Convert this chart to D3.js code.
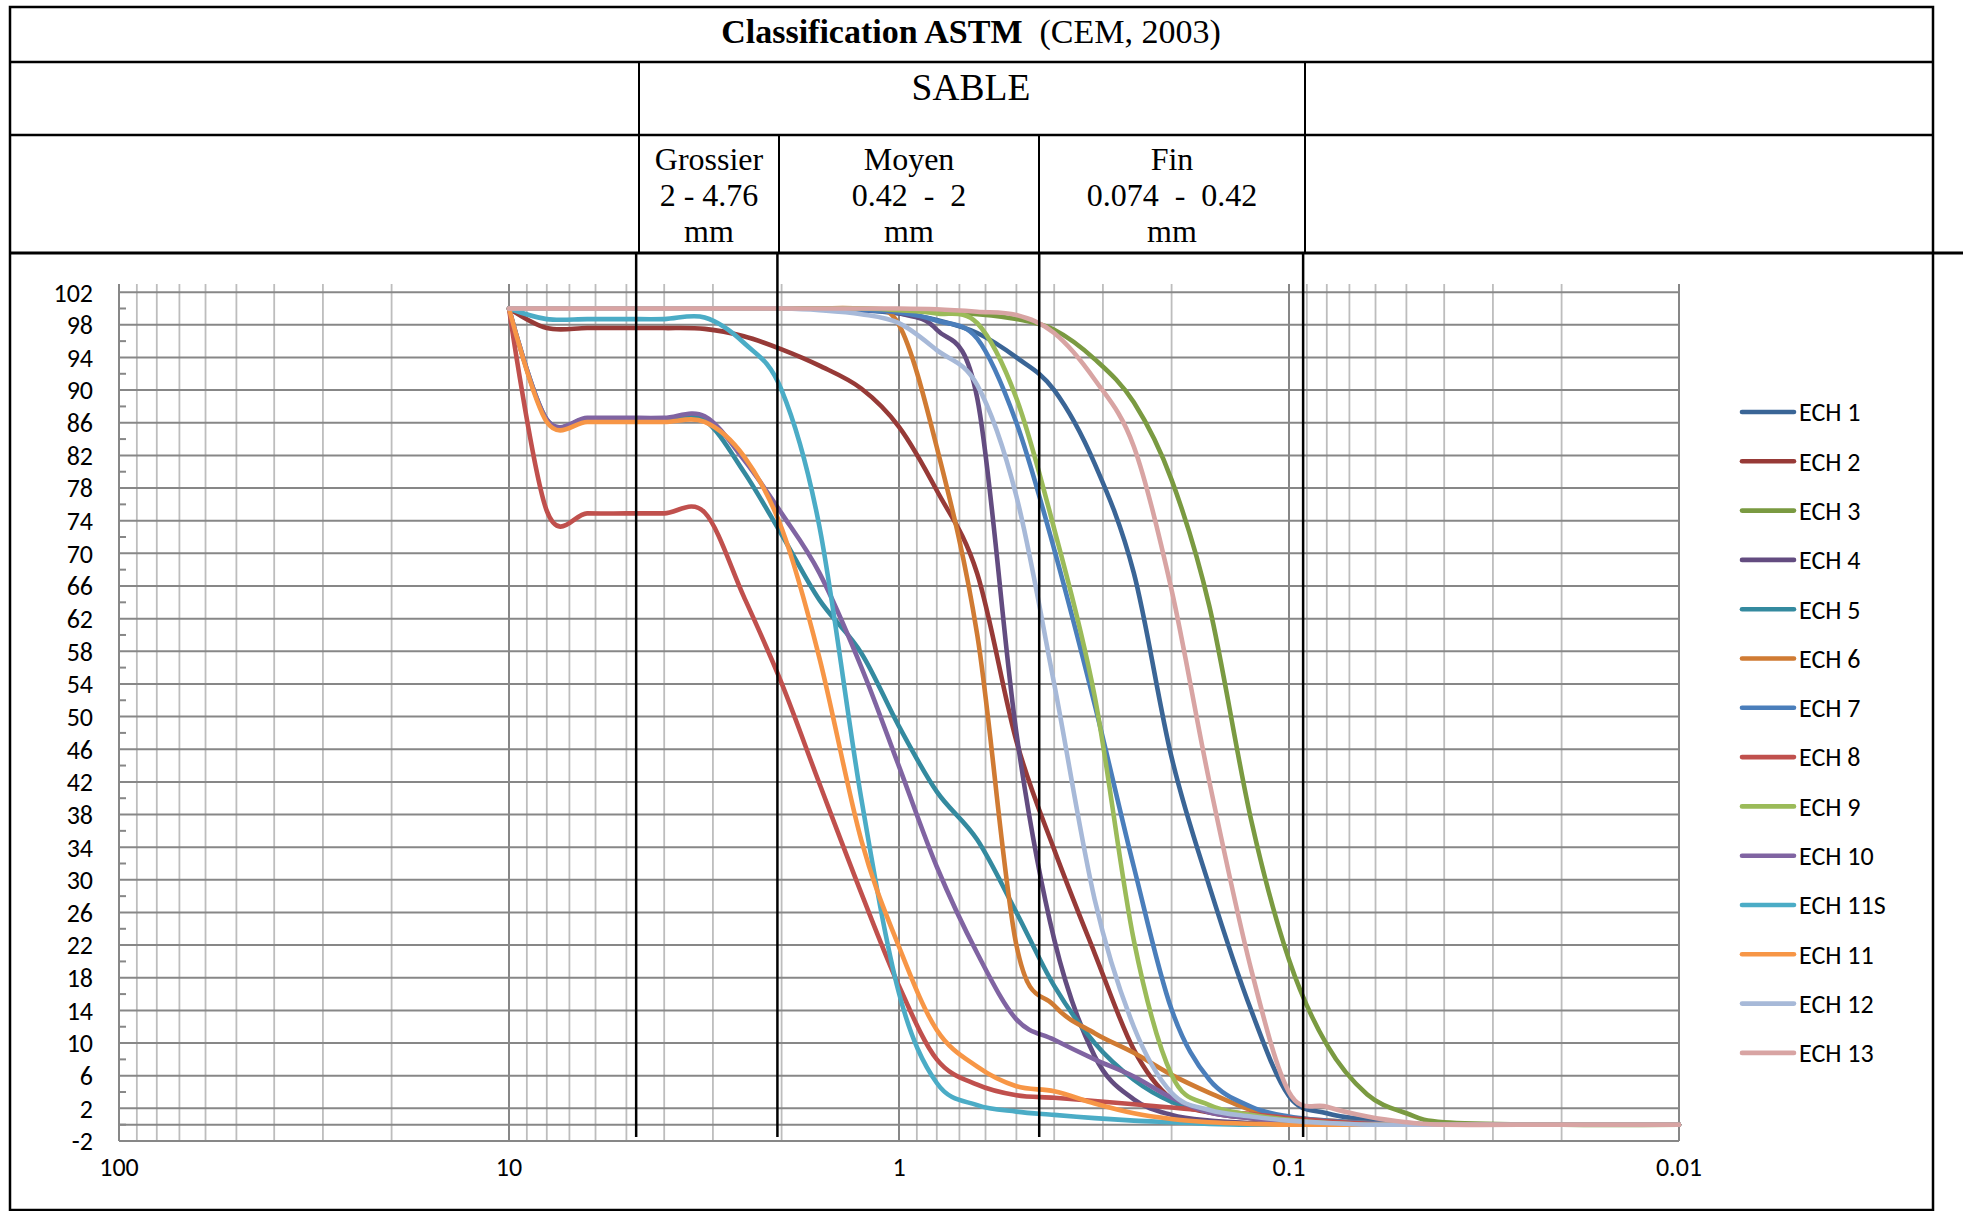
<!DOCTYPE html>
<html lang="fr">
<head>
  <meta charset="UTF-8">
  <title>Classification ASTM (CEM, 2003)</title>
  <script src="https://cdnjs.cloudflare.com/ajax/libs/d3/7.8.5/d3.min.js"></script>
  <style>
    body {
      margin: 0;
      background: white;
    }
    svg {
      display: block;
      background: white;
    }
    .tbl {
      font-family: "Liberation Serif", "Times New Roman", serif;
      fill: #000;
    }
    .axis-label, .legend-label {
      font-family: Carlito, Calibri, Lato, sans-serif;
      fill: #000;
    }
  </style>
</head>
<body>
  <script>
    // sieve openings (mm)
    var sieves = [10, 8, 6.3, 5, 4, 3.15, 2.5, 2, 1.6, 1.25, 1, 0.8, 0.63, 0.5,
      0.4, 0.315, 0.25, 0.2, 0.16, 0.125, 0.1, 0.08, 0.063, 0.05, 0.04, 0.02, 0.01];

    // % passing for each sample
    var ech1  = [100, 100, 100, 100, 100, 100, 100, 100, 100, 99.8, 99.4, 98.6, 97, 94, 90, 81, 67.6, 45, 29.2, 14, 3.5, 1.4, 0.6, 0.2, 0, 0, 0];
    var ech2  = [100, 97.6, 97.6, 97.6, 97.6, 97.5, 96.6, 95, 93, 90.2, 85.5, 77.7, 67.5, 47, 33.7, 21, 9.2, 3.1, 1.5, 0.8, 0.4, 0.1, 0, 0, 0, 0, 0];
    var ech3  = [100, 100, 100, 100, 100, 100, 100, 100, 100, 100, 99.8, 99.6, 99.3, 98.7, 97.4, 93.8, 88.5, 79, 63.5, 37.3, 20.2, 9.8, 3.7, 1.4, 0.3, 0, 0];
    var ech4  = [100, 100, 100, 100, 100, 100, 100, 100, 100, 99.8, 99.4, 97.4, 89, 48, 22.7, 8.4, 3.1, 1.2, 0.5, 0.2, 0, 0, 0, 0, 0, 0, 0];
    var ech5  = [100, 86.4, 86.5, 86.5, 86.5, 86.3, 80, 72.3, 64.3, 57.8, 48.8, 40.8, 34.9, 26, 17, 10, 5.5, 2.8, 1.6, 1, 0.5, 0.2, 0, 0, 0, 0, 0];
    var ech6  = [100, 100, 100, 100, 100, 100, 100, 100, 100, 99.9, 98, 83, 60, 22, 14.6, 11.2, 8.8, 6.1, 3.9, 1.8, 0.9, 0.5, 0.2, 0, 0, 0, 0];
    var ech7  = [100, 100, 100, 100, 100, 100, 100, 100, 100, 99.8, 99.5, 98.5, 96.3, 86, 70.5, 51.5, 31.6, 14.1, 5.5, 2.2, 1, 0.5, 0.2, 0, 0, 0, 0];
    var ech8  = [100, 75.2, 74.9, 74.9, 74.9, 75, 64.7, 54.1, 41.8, 28.4, 17, 8, 4.9, 3.6, 3.3, 2.9, 2.5, 2.1, 1.7, 1.3, 0.8, 0.4, 0.1, 0, 0, 0, 0];
    var ech9  = [100, 100, 100, 100, 100, 100, 100, 100, 100, 100, 99.8, 99.4, 98.2, 89, 73, 52.5, 22.6, 6.1, 2.4, 1.2, 0.6, 0.2, 0, 0, 0, 0, 0];
    var ech10 = [100, 86.4, 86.6, 86.6, 86.6, 86.8, 81.5, 74.9, 67.6, 56.1, 43.9, 31.6, 21, 12.9, 10.4, 8, 5.9, 3.3, 1.5, 0.8, 0.4, 0.1, 0, 0, 0, 0, 0];
    var ech11s = [100, 98.7, 98.7, 98.7, 98.7, 98.9, 95.8, 90, 73.3, 40, 16.1, 5.1, 2.4, 1.6, 1.2, 0.8, 0.5, 0.3, 0.1, 0, 0, 0, 0, 0, 0, 0, 0];
    var ech11 = [100, 86.1, 86.1, 86.1, 86.1, 86.1, 81.9, 73.1, 57.2, 34.9, 21.8, 11.6, 7.1, 4.7, 4.1, 2.6, 1.4, 0.7, 0.3, 0.1, 0, 0, 0, 0, 0, 0, 0];
    var ech12 = [100, 100, 100, 100, 100, 100, 100, 100, 99.8, 99.3, 98.2, 94.9, 90.6, 77, 54, 27.6, 12, 3.9, 1.8, 1, 0.5, 0.2, 0, 0, 0, 0, 0];
    var ech13 = [100, 100, 100, 100, 100, 100, 100, 100, 100, 100, 100, 99.9, 99.6, 99.2, 97, 91.3, 83.1, 65.5, 42, 19, 4, 2.2, 1, 0.3, 0, 0, 0];

    var names = ["ECH 1", "ECH 2", "ECH 3", "ECH 4", "ECH 5", "ECH 6", "ECH 7",
      "ECH 8", "ECH 9", "ECH 10", "ECH 11S", "ECH 11", "ECH 12", "ECH 13"];
    var colors = ["#3a6596", "#973a37", "#7a9a41", "#634c80", "#348a9f", "#d07b33", "#4a7ebb",
      "#c0504d", "#9bbb59", "#8064a2", "#4bacc6", "#f79646", "#a7b9d8", "#d8a4a3"];

    var yTicks = d3.range(-2, 103, 4);
    var yMinorTicks = d3.range(0, 101, 4);
    var xTicks = [100, 10, 1, 0.1, 0.01];
    // ASTM class limits as drawn on the figure
    var classBounds = [4.72, 2.05, 0.437, 0.092];

    var w = 1968;
    var h = 1211;

    var allValues = [ech1, ech2, ech3, ech4, ech5, ech6, ech7, ech8, ech9, ech10, ech11s, ech11, ech12, ech13];
    var series = names.map(function(n, i) {
      return {
        name: n,
        color: colors[i],
        points: sieves.map(function(s, j) { return [s, allValues[i][j]]; })
      };
    });

    var svg = d3.select("body").append("svg")
      .attr("width", w)
      .attr("height", h);

    var xScale = d3.scaleLog()
      .domain([100, 0.01])
      .range([119, 1679]);

    var yScale = d3.scaleLinear()
      .domain([-2, 103])
      .range([1141, 284]);

    // ---- grid ----
    var grid = svg.append("g");
    var minorX = [];
    [10, 1, 0.1, 0.01].forEach(function(dec) {
      for (var k = 2; k <= 9; k++) minorX.push(dec * k);
    });

    grid.selectAll("line.vminor")
      .data(minorX)
      .enter()
      .append("line")
      .attr("x1", function(d) { return xScale(d); })
      .attr("x2", function(d) { return xScale(d); })
      .attr("y1", yScale(103))
      .attr("y2", yScale(-2))
      .attr("stroke", "#bdbdbd")
      .attr("stroke-width", 1.8);

    grid.selectAll("line.hmajor")
      .data(yTicks)
      .enter()
      .append("line")
      .attr("x1", xScale(100))
      .attr("x2", xScale(0.01))
      .attr("y1", function(d) { return yScale(d); })
      .attr("y2", function(d) { return yScale(d); })
      .attr("stroke", "#878787")
      .attr("stroke-width", 2);

    grid.selectAll("line.vmajor")
      .data(xTicks)
      .enter()
      .append("line")
      .attr("x1", function(d) { return xScale(d); })
      .attr("x2", function(d) { return xScale(d); })
      .attr("y1", yScale(103))
      .attr("y2", yScale(-2))
      .attr("stroke", "#878787")
      .attr("stroke-width", 2);

    // horizontal axis crosses at 0
    grid.append("line")
      .attr("x1", xScale(100))
      .attr("x2", xScale(0.01))
      .attr("y1", yScale(0))
      .attr("y2", yScale(0))
      .attr("stroke", "#878787")
      .attr("stroke-width", 2);

    grid.selectAll("line.yminor")
      .data(yMinorTicks)
      .enter()
      .append("line")
      .attr("x1", xScale(100))
      .attr("x2", xScale(100) + 7)
      .attr("y1", function(d) { return yScale(d); })
      .attr("y2", function(d) { return yScale(d); })
      .attr("stroke", "#878787")
      .attr("stroke-width", 2);

    // ---- axis labels ----
    svg.selectAll("text.ylab")
      .data(yTicks)
      .enter()
      .append("text")
      .attr("class", "axis-label")
      .attr("x", 93)
      .attr("y", function(d) { return yScale(d); })
      .attr("dy", "0.36em")
      .attr("text-anchor", "end")
      .style("font-size", "26px")
      .text(function(d) { return d; });

    svg.selectAll("text.xlab")
      .data(xTicks)
      .enter()
      .append("text")
      .attr("class", "axis-label")
      .attr("x", function(d) { return xScale(d); })
      .attr("y", 1167)
      .attr("dy", "0.36em")
      .attr("text-anchor", "middle")
      .style("font-size", "26px")
      .text(function(d) { return d; });

    // ---- curves ----
    var line = d3.line()
      .x(function(d) { return xScale(d[0]); })
      .y(function(d) { return yScale(d[1]); })
      .curve(d3.curveCardinal.tension(0));

    svg.append("g")
      .selectAll("path")
      .data(series)
      .enter()
      .append("path")
      .attr("d", function(d) { return line(d.points); })
      .attr("fill", "none")
      .attr("stroke", function(d) { return d.color; })
      .attr("stroke-width", 4.6)
      .attr("stroke-linejoin", "round")
      .attr("stroke-linecap", "round");

    // ---- class limits ----
    svg.selectAll("line.bound")
      .data(classBounds)
      .enter()
      .append("line")
      .attr("x1", function(d) { return xScale(d); })
      .attr("x2", function(d) { return xScale(d); })
      .attr("y1", 253)
      .attr("y2", 1137)
      .attr("stroke", "#000")
      .attr("stroke-width", 2.5);

    // ---- legend ----
    var legend = svg.append("g")
      .selectAll("g")
      .data(series)
      .enter()
      .append("g")
      .attr("transform", function(d, i) {
        return "translate(1740," + (412 + i * 49.3) + ")";
      });

    legend.append("line")
      .attr("x1", 2)
      .attr("x2", 54)
      .attr("stroke", function(d) { return d.color; })
      .attr("stroke-width", 4.6)
      .attr("stroke-linecap", "round");

    legend.append("text")
      .attr("class", "legend-label")
      .attr("x", 59)
      .attr("dy", "0.36em")
      .style("font-size", "26px")
      .text(function(d) { return d.name; });

    // ---- table frame ----
    var frame = svg.append("g")
      .attr("stroke", "#000")
      .attr("fill", "none");

    frame.append("rect")
      .attr("x", 10)
      .attr("y", 7)
      .attr("width", 1923)
      .attr("height", 1203)
      .attr("stroke-width", 2.5);

    frame.append("line").attr("x1", 10).attr("x2", 1933).attr("y1", 62).attr("y2", 62).attr("stroke-width", 2.5);
    frame.append("line").attr("x1", 10).attr("x2", 1933).attr("y1", 135).attr("y2", 135).attr("stroke-width", 2.5);
    frame.append("line").attr("x1", 10).attr("x2", 1963).attr("y1", 253).attr("y2", 253).attr("stroke-width", 3);

    frame.append("line").attr("x1", 639).attr("x2", 639).attr("y1", 62).attr("y2", 253).attr("stroke-width", 2);
    frame.append("line").attr("x1", 1305).attr("x2", 1305).attr("y1", 62).attr("y2", 253).attr("stroke-width", 2);
    frame.append("line").attr("x1", 779).attr("x2", 779).attr("y1", 135).attr("y2", 253).attr("stroke-width", 2);
    frame.append("line").attr("x1", 1039).attr("x2", 1039).attr("y1", 135).attr("y2", 253).attr("stroke-width", 2);

    // ---- table text ----
    var title = svg.append("text")
      .attr("class", "tbl")
      .attr("x", 971)
      .attr("y", 43)
      .attr("text-anchor", "middle")
      .style("font-size", "34px");
    title.append("tspan").style("font-weight", "bold").text("Classification ASTM");
    title.append("tspan").text("\u00a0 (CEM, 2003)");

    svg.append("text")
      .attr("class", "tbl")
      .attr("x", 971)
      .attr("y", 100)
      .attr("text-anchor", "middle")
      .style("font-size", "37.5px")
      .text("SABLE");

    var cells = [
      { x: 709, lines: ["Grossier", "2 - 4.76", "mm"] },
      { x: 909, lines: ["Moyen", "0.42\u00a0 -\u00a0 2", "mm"] },
      { x: 1172, lines: ["Fin", "0.074\u00a0 -\u00a0 0.42", "mm"] }
    ];

    cells.forEach(function(c) {
      svg.append("g")
        .selectAll("text")
        .data(c.lines)
        .enter()
        .append("text")
        .attr("class", "tbl")
        .attr("x", c.x)
        .attr("y", function(d, i) { return 170 + i * 36; })
        .attr("text-anchor", "middle")
        .style("font-size", "32px")
        .text(function(d) { return d; });
    });
  </script>
</body>
</html>
